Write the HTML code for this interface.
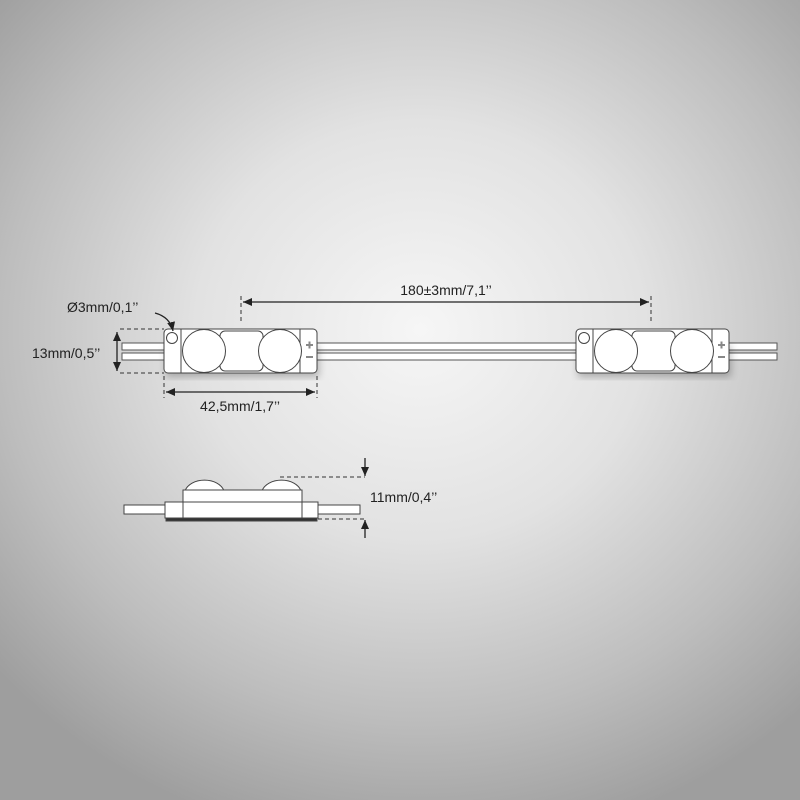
<!DOCTYPE html>
<html><head><style>
html,body{margin:0;padding:0}
body{width:800px;height:800px;background:radial-gradient(ellipse 560px 520px at 420px 330px,#f6f6f6 0%,#e2e2e2 40%,#bdbdbd 75%,#9e9e9e 100%);overflow:hidden}
svg{position:absolute;left:0;top:0}
text{font-family:"Liberation Sans",sans-serif;font-size:14px;fill:#222}
</style></head><body>
<svg width="800" height="800" viewBox="0 0 800 800">
<defs>
<marker id="a" markerWidth="10" markerHeight="10" refX="9" refY="5" orient="auto-start-reverse" markerUnits="userSpaceOnUse"><path d="M0,1 L9,5 L0,9Z" fill="#222"/></marker>
<g id="mod" stroke="#444" stroke-width="1" fill="#fff">
<rect x="164" y="329" width="153" height="44" rx="4"/>
<rect x="181" y="329" width="119" height="44"/>
<rect x="220" y="331" width="43" height="40" rx="5"/>
<circle cx="204" cy="351" r="21.5"/>
<circle cx="280" cy="351" r="21.5"/>
<circle cx="172" cy="338" r="5.5"/>
<path d="M306,345h7M309.5,341.5v7M306,357h7" stroke="#888" stroke-width="2"/>
</g>
<filter id="sh"><feGaussianBlur stdDeviation="4"/></filter>
</defs>
<g fill="#fff" stroke="#555" stroke-width="1">
<rect x="122" y="343" width="655" height="7"/>
<rect x="122" y="353" width="655" height="7"/>
</g>
<rect x="166" y="345" width="153" height="32" fill="#000" opacity=".25" filter="url(#sh)"/>
<rect x="578" y="345" width="153" height="32" fill="#000" opacity=".25" filter="url(#sh)"/>
<use href="#mod"/>
<use href="#mod" x="412"/>
<!-- dimensions top -->
<g stroke="#333" stroke-width="1" stroke-dasharray="4,3" fill="none">
<path d="M241,296V324M651,296V324"/>
<path d="M120,329H164M120,373H164"/>
<path d="M164,376V398M317,376V398"/>
<path d="M280,477H365M318,519H365"/>
</g>
<g stroke="#222" stroke-width="1.3">
<line x1="243" y1="302" x2="649" y2="302" marker-start="url(#a)" marker-end="url(#a)"/>
<line x1="117" y1="332" x2="117" y2="371" marker-start="url(#a)" marker-end="url(#a)"/>
<line x1="166" y1="392" x2="315" y2="392" marker-start="url(#a)" marker-end="url(#a)"/>
<line x1="365" y1="458" x2="365" y2="476" marker-end="url(#a)"/>
<line x1="365" y1="538" x2="365" y2="520" marker-end="url(#a)"/>
<path d="M155,313 Q170,317 173,331" fill="none" marker-end="url(#a)"/>
</g>
<text x="446" y="295" text-anchor="middle">180±3mm/7,1’’</text>
<text x="32" y="358">13mm/0,5’’</text>
<text x="240" y="411" text-anchor="middle">42,5mm/1,7’’</text>
<text x="67" y="312">Ø3mm/0,1’’</text>
<text x="370" y="502">11mm/0,4’’</text>
<!-- side view -->
<g fill="#fff" stroke="#444" stroke-width="1">
<rect x="124" y="505" width="236" height="9"/>
<path d="M185,491 A20,14 0 0 1 224,491Z"/>
<path d="M262,491 A20,14 0 0 1 301,491Z"/>
<rect x="166" y="518" width="151" height="3" fill="#333"/>
<rect x="165" y="502" width="153" height="16"/>
<rect x="183" y="490" width="119" height="28"/>
<line x1="183" y1="502" x2="302" y2="502"/>
</g>
</svg>
</body></html>
